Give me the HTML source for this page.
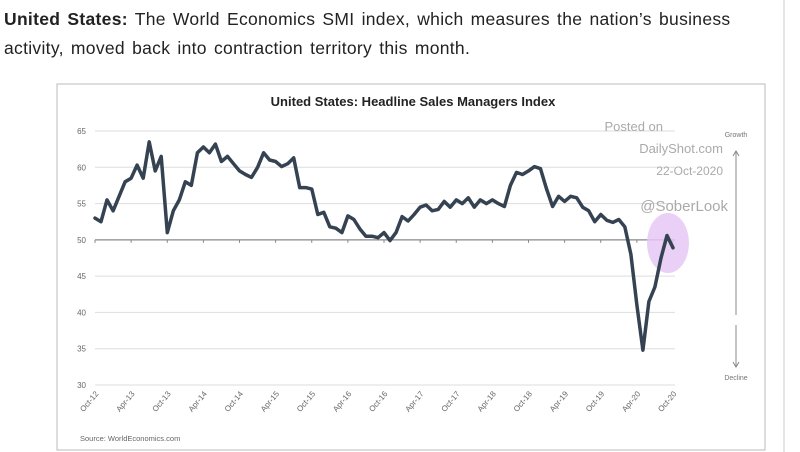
<!DOCTYPE html>
<html><head><meta charset="utf-8"><style>
body{margin:0;width:800px;height:452px;background:#fff;font-family:"Liberation Sans",sans-serif;overflow:hidden}
#hdr{position:absolute;left:4px;top:5px;font-size:17.5px;line-height:29px;color:#222;width:790px;letter-spacing:0.3px;word-spacing:2px}
</style></head><body>
<div id="hdr"><b>United States:</b> The World Economics SMI index, which measures the nation’s business<br>activity, moved back into contraction territory this month.</div>
<svg id="c" width="800" height="452" style="position:absolute;left:0;top:0"></svg>
<script>
const yTicks=[30,35,40,45,50,55,60,65];
const xLabels=["Oct-12","Apr-13","Oct-13","Apr-14","Oct-14","Apr-15","Oct-15","Apr-16","Oct-16","Apr-17","Oct-17","Apr-18","Oct-18","Apr-19","Oct-19","Apr-20","Oct-20"];
const smi=[53,52.5,55.5,
54,56,58,58.5,60.3,58.5,63.5,59.5,61.5,51,54,55.5,
58,57.5,62,62.8,62,63.2,60.8,61.5,60.5,59.5,59,58.6,
60,62,61,60.8,60.1,60.5,61.3,57.2,57.2,57,53.5,53.8,
51.8,51.6,51,53.3,52.8,51.5,50.5,50.5,50.3,51,49.9,51,
53.2,52.6,53.5,54.5,54.8,54,54.2,55.3,54.5,55.5,55,55.8,
54.5,55.5,55,55.5,55,54.6,57.5,59.3,59,59.5,60.1,59.8,
57,54.6,56,55.3,56,55.8,54.5,54,52.5,53.5,52.7,52.4,
52.8,51.8,48,41,34.8,41.5,43.5,47.5,50.6,48.9];
const svg=document.getElementById('c');const NS='http://www.w3.org/2000/svg';
function mk(t,a,p){const e=document.createElementNS(NS,t);for(const k in a)e.setAttribute(k,a[k]);(p||svg).appendChild(e);return e;}
const X0=95,X1=673,Y0=385,Y1=131;
const xs=i=>X0+(X1-X0)*i/(smi.length-1);
const ys=v=>Y0-(v-30)/(65-30)*(Y0-Y1);
let f=mk('rect',{x:57,y:84,width:708,height:366,fill:'none',stroke:'#bbb','stroke-width':1});

let t=mk('text',{x:413,y:106,'text-anchor':'middle','font-size':13,'font-weight':'bold',fill:'#222'});t.textContent='United States: Headline Sales Managers Index';

yTicks.forEach(v=>{let g=mk('line',{x1:X0,x2:675,y1:ys(v),y2:ys(v),stroke:v==50?'#888':'#ddd','stroke-width':v==50?1.2:1});

let l=mk('text',{x:86,y:ys(v)+3,'text-anchor':'end','font-size':8,fill:'#666'});l.textContent=v;
});
xLabels.forEach((s,i)=>{const x=xs(i*6);let l=mk('text',{transform:`translate(${x+4},${Y0+9}) rotate(-50)`,'text-anchor':'end','font-size':8,fill:'#666'});l.textContent=s;

let tk=mk('line',{x1:x,x2:x,y1:ys(50),y2:ys(50)+3,stroke:'#888'});});
let c=mk('ellipse',{cx:668,cy:243,rx:21,ry:30,fill:'#e6c8f5',opacity:0.85});
let p=mk('path',{d:smi.map((v,i)=>(i?'L':'M')+xs(i).toFixed(1)+','+ys(v).toFixed(1)).join(''),fill:'none',stroke:'#354252','stroke-width':3.5,'stroke-linejoin':'round','stroke-linecap':'round'});

[['Posted on',663,131,13],['DailyShot.com',723,153,13],['22-Oct-2020',723,175,12],['@SoberLook',728,211,15]].forEach(a=>{let w=mk('text',{x:a[1],y:a[2],'text-anchor':'end','font-size':a[3],fill:'#aaa'});w.textContent=a[0];
});
let g1=mk('text',{x:736,y:137,'text-anchor':'middle','font-size':7,fill:'#777'});g1.textContent='Growth';
let g2=mk('text',{x:736,y:380,'text-anchor':'middle','font-size':7,fill:'#777'});g2.textContent='Decline';
let a1=mk('path',{d:'M736,152L736,315M733,156L736,151L739,156',stroke:'#888',fill:'none','stroke-width':1});
let a2=mk('path',{d:'M736,325L736,366M733,362L736,367L739,362',stroke:'#888',fill:'none','stroke-width':1});
let s=mk('text',{x:80,y:441,'font-size':7.5,fill:'#666'});s.textContent='Source: WorldEconomics.com';
let r=mk('line',{x1:784,x2:784,y1:0,y2:452,stroke:'#ccc'});
</script>
</body></html>
